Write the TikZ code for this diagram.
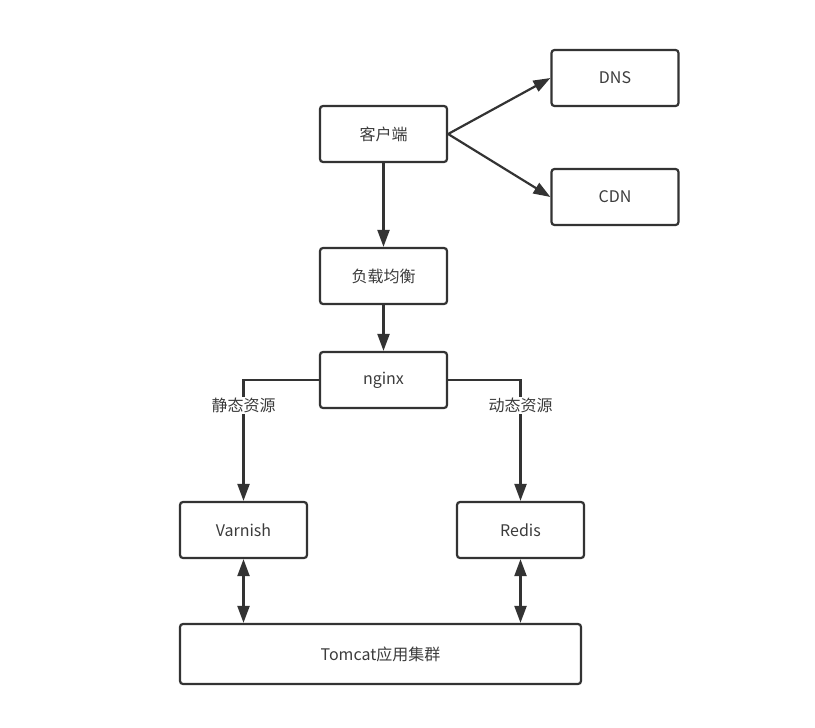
\documentclass[tikz,border=0pt]{standalone}
\usepackage{fontspec}
\setmainfont{Noto Sans CJK SC}
\usetikzlibrary{arrows.meta}
\definecolor{linegray}{HTML}{333333}
\definecolor{textgray}{HTML}{3C3C3C}

\begin{document}
\begin{tikzpicture}[x=1pt,y=-1pt,
		box/.style={draw=linegray, line width=2.2pt, rounded corners=3pt, fill=white,
			minimum width=127pt, minimum height=56pt, inner sep=0pt,
			text=textgray, font=\fontsize{16}{19}\selectfont},
		arr/.style={draw=linegray, line width=2.2pt, -{Triangle[length=17pt,width=12pt]}},
		biarr/.style={draw=linegray, line width=2.2pt, {Triangle[length=17pt,width=12pt]}-{Triangle[length=17pt,width=12pt]}},
		tag/.style={fill=white, inner sep=1pt, text=textgray, font=\fontsize{16}{19}\selectfont}]
	
	% canvas
	\useasboundingbox (0,0) rectangle (815,728);
	
	% boxes
	\node[box] (client) at (383.5,134) {客户端};
	\node[box] (dns) at (615,78) {DNS};
	\node[box] (cdn) at (615,197) {CDN};
	\node[box] (lb) at (383.5,276) {负载均衡};
	\node[box] (nginx) at (383.5,380) {nginx};
	\node[box] (varnish) at (243.5,530) {Varnish};
	\node[box] (redis) at (520.5,530) {Redis};
	\node[box, minimum width=401pt, minimum height=60pt] (tomcat) at (380.5,654) {Tomcat应用集群};
	
	% client to DNS / CDN
	\draw[arr] (client.east) -- (dns.west);
	\draw[arr] (client.east) -- (cdn.west);
	
	% main chain
	\draw[arr] (client) -- (lb);
	\draw[arr] (lb) -- (nginx);
	
	% static and dynamic resources
	\draw[arr] (nginx.west) -| node[tag, pos=0.607] {静态资源} (varnish.north);
	\draw[arr] (nginx.east) -| node[tag, pos=0.607] {动态资源} (redis.north);
	
	% caches and application cluster
	\draw[biarr] (varnish.south) -- (varnish.south |- tomcat.north);
	\draw[biarr] (redis.south) -- (redis.south |- tomcat.north);
	
\end{tikzpicture}
\end{document}
